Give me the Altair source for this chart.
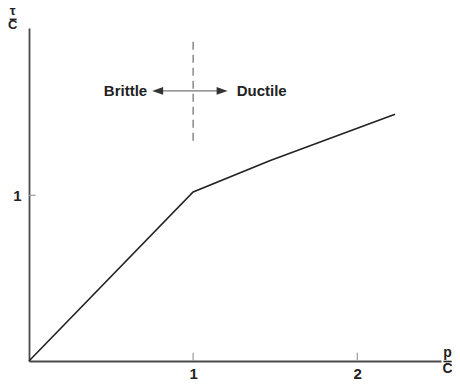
import altair as alt
import pandas as pd

# curve tau/C vs p/C
curve_x = [0.0, 1.0, 1.47, 2.23]
curve_y = [0.0, 1.02, 1.21, 1.49]

# dashed brittle/ductile boundary
bound_x = [1.0, 1.0]
bound_y = [1.33, 1.93]

# arrow
arrow_y = 1.63
arrow_left = 0.75
arrow_right = 1.21
arrow_tips_x = [arrow_left, arrow_right]

labels_text = ["Brittle", "Ductile"]
labels_x = [0.72, 1.265]

x_tick_vals = [1, 2]
y_tick_vals = [1]
x_domain = [0, 2.51]
y_domain = [0, 2.01]

AX = "#4a4a4a"
FONT = "Liberation Sans"

def X(field):
    return alt.X(field, type="quantitative",
                 scale=alt.Scale(domain=x_domain, nice=False, zero=False),
                 axis=alt.Axis(values=x_tick_vals, grid=False, ticks=False, tickSize=0,
                               title=None, domainColor=AX, domainWidth=1.8,
                               labelFont=FONT, labelFontSize=15, labelFontWeight="bold",
                               labelColor="#222", labelPadding=5, format="d"))

def Y(field):
    return alt.Y(field, type="quantitative",
                 scale=alt.Scale(domain=y_domain, nice=False, zero=False),
                 axis=alt.Axis(values=y_tick_vals, grid=False, ticks=False, tickSize=0,
                               title=None, domainColor=AX, domainWidth=1.8,
                               labelFont=FONT, labelFontSize=15, labelFontWeight="bold",
                               labelColor="#222", labelPadding=8, format="d"))

curve = alt.Chart(pd.DataFrame({"x": curve_x, "y": curve_y})).mark_line(
    color="#222", strokeWidth=1.6).encode(x=X("x"), y=Y("y"))

bound = alt.Chart(pd.DataFrame({"x": bound_x, "y": bound_y})).mark_line(
    color="#777", strokeWidth=1.3, strokeDash=[8, 5]).encode(x=X("x"), y=Y("y"))

arrow_line = alt.Chart(pd.DataFrame({"x": [arrow_left + 0.05], "x2": [arrow_right - 0.05], "y": [arrow_y]})).mark_rule(
    color="#777", strokeWidth=1.3).encode(x=X("x"), x2="x2", y=Y("y"))

heads = alt.Chart(pd.DataFrame({"x": arrow_tips_x, "y": [arrow_y, arrow_y],
                                "shape": ["M0,0L2,-0.7L2,0.7Z", "M0,0L-2,-0.7L-2,0.7Z"]})).mark_point(
    filled=True, color="#333", size=121, opacity=1).encode(
    x=X("x"), y=Y("y"), shape=alt.Shape("shape:N", scale=None, legend=None))

lab_df = pd.DataFrame({"x": labels_x, "y": [arrow_y, arrow_y], "t": labels_text})
lab_left = alt.Chart(lab_df.iloc[[0]]).mark_text(
    align="right", baseline="middle", font=FONT, fontSize=15, fontWeight="bold", color="#222").encode(
    x=X("x"), y=Y("y"), text="t:N")
lab_right = alt.Chart(lab_df.iloc[[1]]).mark_text(
    align="left", baseline="middle", font=FONT, fontSize=15, fontWeight="bold", color="#222").encode(
    x=X("x"), y=Y("y"), text="t:N")

# inward ticks
xt = alt.Chart(pd.DataFrame({"x": x_tick_vals, "y": [0.0] * 2, "y2": [0.05] * 2})).mark_rule(
    color="#999", strokeWidth=1.2).encode(x=X("x"), y=Y("y"), y2="y2")
yt = alt.Chart(pd.DataFrame({"x": [0.0], "x2": [0.04], "y": y_tick_vals})).mark_rule(
    color="#999", strokeWidth=1.2).encode(x=X("x"), x2="x2", y=Y("y"))

# axis fraction titles
frac_df = pd.DataFrame({"x": [-0.10, -0.10, 2.55, 2.55], "y": [2.088, 2.004, 0.024, -0.072],
                        "t": ["τ", "C", "p", "C"], "s": [13, 13, 14, 14]})
frac_txt = alt.Chart(frac_df).mark_text(
    align="center", baseline="alphabetic", font=FONT, fontWeight="bold", color="#222").encode(
    x=X("x"), y=Y("y"), text="t:N", size=alt.Size("s:Q", scale=None, legend=None))
bar_df = pd.DataFrame({"x": [-0.118, 2.525], "x2": [-0.075, 2.575], "y": [2.062, -0.003]})
frac_bar = alt.Chart(bar_df).mark_rule(color="#222", strokeWidth=1.6).encode(
    x=X("x"), x2="x2", y=Y("y"))

chart = alt.layer(bound, arrow_line, heads, lab_left, lab_right, xt, yt, curve, frac_txt, frac_bar).properties(
    width=412, height=333,
    autosize=alt.AutoSizeParams(type="none"),
    padding={"left": 21, "top": 20, "right": 11, "bottom": 24},
    background="white",
).configure_view(stroke=None)

chart.save("out.html", embed_options={"renderer": "svg", "actions": False})
